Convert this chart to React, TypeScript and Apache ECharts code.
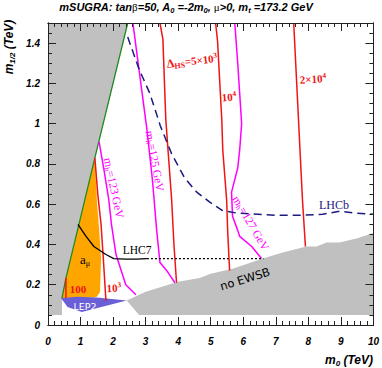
import React, { useEffect, useRef } from "react";
import * as echarts from "echarts";

type P = [number, number];

// Filled regions (m0 [TeV], m1/2 [TeV])
const grayLeft: P[] = [[0, 1.5], [2.45, 1.5], [1.44, 0.83], [0.95, 0.5], [0.55, 0.233], [0.43, 0.134], [0.43, 0.05], [0, 0.05]];
const grayBottom: P[] = [[2.42, 0.122], [3.0, 0.165], [4.0, 0.215], [4.66, 0.233], [5.0, 0.255], [5.67, 0.28], [6.6, 0.33], [7.21, 0.36], [7.94, 0.39], [8.25, 0.39], [8.56, 0.41], [8.96, 0.41], [9.48, 0.43], [10, 0.457], [10, 0.05], [2.8, 0.05]];
const orangeAmu: P[] = [[0.43, 0.134], [0.55, 0.233], [0.95, 0.5], [1.44, 0.83], [1.47, 0.72], [1.51, 0.6], [1.56, 0.5], [1.63, 0.33], [1.6, 0.164], [1.5, 0.14], [1.41, 0.136]];
const lep2: P[] = [[0.4, 0.134], [0.9, 0.14], [1.5, 0.136], [2.42, 0.122], [1.04, 0.064], [0.6, 0.09]];

// Contours
const greenEdge: P[] = [[0.43, 0.134], [0.55, 0.233], [0.95, 0.5], [1.44, 0.83], [2.45, 1.5]];
const dhs100: P[] = [[0.55, 0.233], [0.55, 0.134]];
const dhs1e3: P[] = [[1.44, 0.83], [1.53, 0.65], [1.63, 0.5], [1.7, 0.33], [1.78, 0.12]];
const dhs5e3: P[] = [[3.44, 1.5], [3.53, 1.42], [3.62, 1.02], [3.8, 0.62], [3.87, 0.4], [3.95, 0.21]];
const dhs1e4: P[] = [[5.15, 1.5], [5.21, 1.41], [5.34, 1.02], [5.37, 0.87], [5.49, 0.62], [5.52, 0.47], [5.58, 0.27]];
const dhs2e4: P[] = [[7.55, 1.5], [7.82, 0.62], [7.91, 0.39]];
const mh123: P[] = [[1.57, 0.91], [1.72, 0.77], [1.87, 0.62], [1.95, 0.5], [2.09, 0.35], [2.39, 0.2], [2.7, 0.15]];
const mh125: P[] = [[2.61, 1.5], [2.73, 1.35], [3.04, 0.97], [3.19, 0.75], [3.22, 0.7], [3.34, 0.47], [3.44, 0.31], [3.65, 0.27], [3.9, 0.21]];
const mh127: P[] = [[5.74, 1.5], [5.83, 1.3], [5.95, 1.0], [5.89, 0.87], [5.83, 0.78], [5.64, 0.66], [5.67, 0.54], [5.83, 0.47], [5.89, 0.44], [6.26, 0.39], [6.56, 0.33]];
const lhcb: P[] = [[2.45, 1.43], [2.8, 1.27], [3.13, 1.15], [3.45, 0.99], [3.8, 0.85], [4.2, 0.73], [4.57, 0.66], [4.97, 0.61], [5.34, 0.57], [5.8, 0.556], [7.0, 0.545], [7.8, 0.545], [8.44, 0.55], [8.96, 0.565], [9.48, 0.555], [10, 0.55]];
const lhc7: P[] = [[0.92, 0.5], [1.17, 0.44], [1.41, 0.39], [1.78, 0.35], [2.02, 0.33], [2.4, 0.327], [2.73, 0.327], [3.04, 0.33]];
const lhc7Dotted: P[] = [[3.04, 0.33], [6.62, 0.33]];

const xRange: P = [0, 10];
const yRange: P = [0, 1.5];

const SANS = "Liberation Sans";
const SERIF = "Liberation Serif";

function polySeries(name: string, pts: P[], color: string, z: number) {
  return {
    type: "custom",
    name,
    data: pts,
    z,
    silent: true,
    encode: { x: 0, y: 1 },
    renderItem: (params: any, api: any) => {
      if (params.dataIndex !== 0) return null;
      const points = pts.map((p) => api.coord(p));
      return { type: "polygon", shape: { points }, style: { fill: color, stroke: null } };
    },
  };
}

function lineSeries(name: string, pts: P[], color: string, width: number, type: any = "solid", z = 5) {
  return {
    type: "line",
    name,
    data: pts,
    z,
    silent: true,
    showSymbol: false,
    symbol: "none",
    lineStyle: { color, width, type },
  };
}

function axis(pos: string, range: P, interval: number, len: number, label: boolean, showMax = true) {
  return {
    type: "value",
    min: range[0],
    max: range[1],
    interval,
    position: pos,
    z: 10,
    axisLine: { show: true, onZero: false, lineStyle: { color: "#222", width: 1 } },
    axisTick: { show: true, inside: true, length: len, lineStyle: { color: "#222", width: 1 } },
    splitLine: { show: false },
    axisPointer: { show: false },
    axisLabel: label
      ? {
          show: true,
          color: "#000",
          fontFamily: SANS,
          fontWeight: "bold",
          fontStyle: "italic",
          fontSize: 10,
          margin: pos === "bottom" ? 11 : 8,
          showMaxLabel: showMax,
        }
      : { show: false },
  };
}

export default function App() {
  const ref = useRef<HTMLDivElement>(null);
  useEffect(() => {
    if (!ref.current) return;
    const chart = echarts.init(ref.current, undefined, { renderer: "svg" });
    const red = "#f01414";
    const mag = "#ff00ff";
    const navy = "#1a1a80";
    const redRich = {
      a: { fontFamily: SERIF, fontWeight: "bold", fontSize: 11, fill: red, lineHeight: 14 },
      d: { fontFamily: SERIF, fontWeight: "bold", fontSize: 12, fill: red, lineHeight: 14 },
      s: { fontFamily: SERIF, fontWeight: "bold", fontSize: 8, fill: red, lineHeight: 8, verticalAlign: "bottom" },
      p: { fontFamily: SERIF, fontWeight: "bold", fontSize: 7.5, fill: red, lineHeight: 8, verticalAlign: "top" },
    };
    const magRich = {
      m: { fontFamily: SERIF, fontSize: 11.5, fill: mag, lineHeight: 14 },
      s: { fontFamily: SERIF, fontSize: 8, fill: mag, lineHeight: 8, verticalAlign: "bottom" },
    };
    const titleRich = {
      b: { fontFamily: SANS, fontWeight: "bold", fontStyle: "italic", fontSize: 11, fill: "#000", lineHeight: 14 },
      g: { fontFamily: SERIF, fontSize: 11, fill: "#000", lineHeight: 14 },
      s: { fontFamily: SANS, fontWeight: "bold", fontStyle: "italic", fontSize: 7.5, fill: "#000", lineHeight: 8, verticalAlign: "bottom" },
    };
    const axRich = {
      b: { fontFamily: SANS, fontWeight: "bold", fontStyle: "italic", fontSize: 12, fill: "#000", lineHeight: 15 },
      s: { fontFamily: SANS, fontWeight: "bold", fontStyle: "italic", fontSize: 8, fill: "#000", lineHeight: 8, verticalAlign: "bottom" },
    };
    const amuRich = {
      a: { fontFamily: SERIF, fontSize: 13, fill: "#000", lineHeight: 16 },
      s: { fontFamily: SERIF, fontSize: 8, fill: "#000", lineHeight: 8, verticalAlign: "bottom" },
    };
    const txt = (x: number, y: number, text: string, rich: any, rotation = 0, extra: any = {}) => ({
      type: "text",
      x,
      y,
      rotation,
      z: 100,
      silent: true,
      style: { text, rich, align: "center", verticalAlign: "middle", ...extra },
    });

    chart.setOption({
      animation: false,
      grid: { left: 48, right: 8, top: 23, bottom: 43, containLabel: false },
      xAxis: [
        axis("bottom", xRange, 1, 8, true),
        axis("bottom", xRange, 0.2, 4, false),
        axis("top", xRange, 1, 8, false),
        axis("top", xRange, 0.2, 4, false),
      ],
      yAxis: [
        axis("left", yRange, 0.2, 8, true, false),
        axis("left", yRange, 0.05, 4, false),
        axis("right", yRange, 0.2, 8, false),
        axis("right", yRange, 0.05, 4, false),
      ],
      series: [
        polySeries("noEWSB-left", grayLeft, "#c0c0c0", 1),
        polySeries("noEWSB", grayBottom, "#c0c0c0", 1),
        polySeries("amu", orangeAmu, "#ffa500", 2),
        polySeries("LEP2", lep2, "#6a5fd6", 3),
        lineSeries("edge", greenEdge, "#1f8a1f", 1.3, "solid", 4),
        lineSeries("dhs100", dhs100, red, 1.5),
        lineSeries("dhs1e3", dhs1e3, red, 1.5),
        lineSeries("dhs5e3", dhs5e3, red, 1.5),
        lineSeries("dhs1e4", dhs1e4, red, 1.5),
        lineSeries("dhs2e4", dhs2e4, red, 1.5),
        lineSeries("mh123", mh123, mag, 1.5),
        lineSeries("mh125", mh125, mag, 1.5),
        lineSeries("mh127", mh127, mag, 1.5),
        lineSeries("LHCb", lhcb, navy, 1.5, [8, 5]),
        lineSeries("LHC7", lhc7, "#000", 1.3),
        lineSeries("LHC7dot", lhc7Dotted, "#000", 1.3, [2, 2]),
      ],
      graphic: [
        txt(186, 7, "{b|mSUGRA: tan}{g|β}{b|=50, A}{s|0}{b| =-2m}{s|0}{b|, }{g|μ}{b|>0, m}{s|t}{b| =173.2 GeV}", titleRich),
        txt(9, 47, "{b|m}{s|1/2}{b| (TeV)}", axRich, Math.PI / 2),
        txt(373, 360, "{b|m}{s|0}{b| (TeV)}", axRich, 0, { align: "right" }),
        txt(192, 61, "{d|Δ}{s|HS}{a|=5×10}{p|3}", redRich, 0.12),
        txt(229, 97, "{a|10}{p|4}", redRich, 0.08),
        txt(313, 79, "{a|2×10}{p|4}", redRich, 0.06),
        txt(114, 288, "{a|10}{p|3}", redRich, 0.05),
        txt(78, 289, "{a|100}", redRich),
        txt(155, 161, "{m|m}{s|h}{m|=125 GeV}", magRich, -1.39),
        txt(114, 188, "{m|m}{s|h}{m|=123 GeV}", magRich, -1.36),
        txt(251, 223, "{m|m}{s|h}{m|=127 GeV}", magRich, -1.04),
        txt(85, 259, "{a|a}{s|μ}", amuRich),
        txt(137, 250, "LHC7", null, 0, { fontFamily: SERIF, fontSize: 11.5, fill: "#000" }),
        txt(334, 205, "LHCb", null, 0, { fontFamily: SERIF, fontSize: 12, fill: navy }),
        txt(85, 306, "LEP2", null, 0, { fontFamily: "DejaVu Sans", fontSize: 9.5, fill: "#fff" }),
        txt(245, 279, "no EWSB", null, 0.3, { fontFamily: "DejaVu Sans", fontSize: 11.5, fill: "#000" }),
      ],
    });
    return () => chart.dispose();
  }, []);
  return <div ref={ref} style={{ position: "fixed", left: 0, top: 0, width: 382, height: 368, background: "#fff" }} />;
}
